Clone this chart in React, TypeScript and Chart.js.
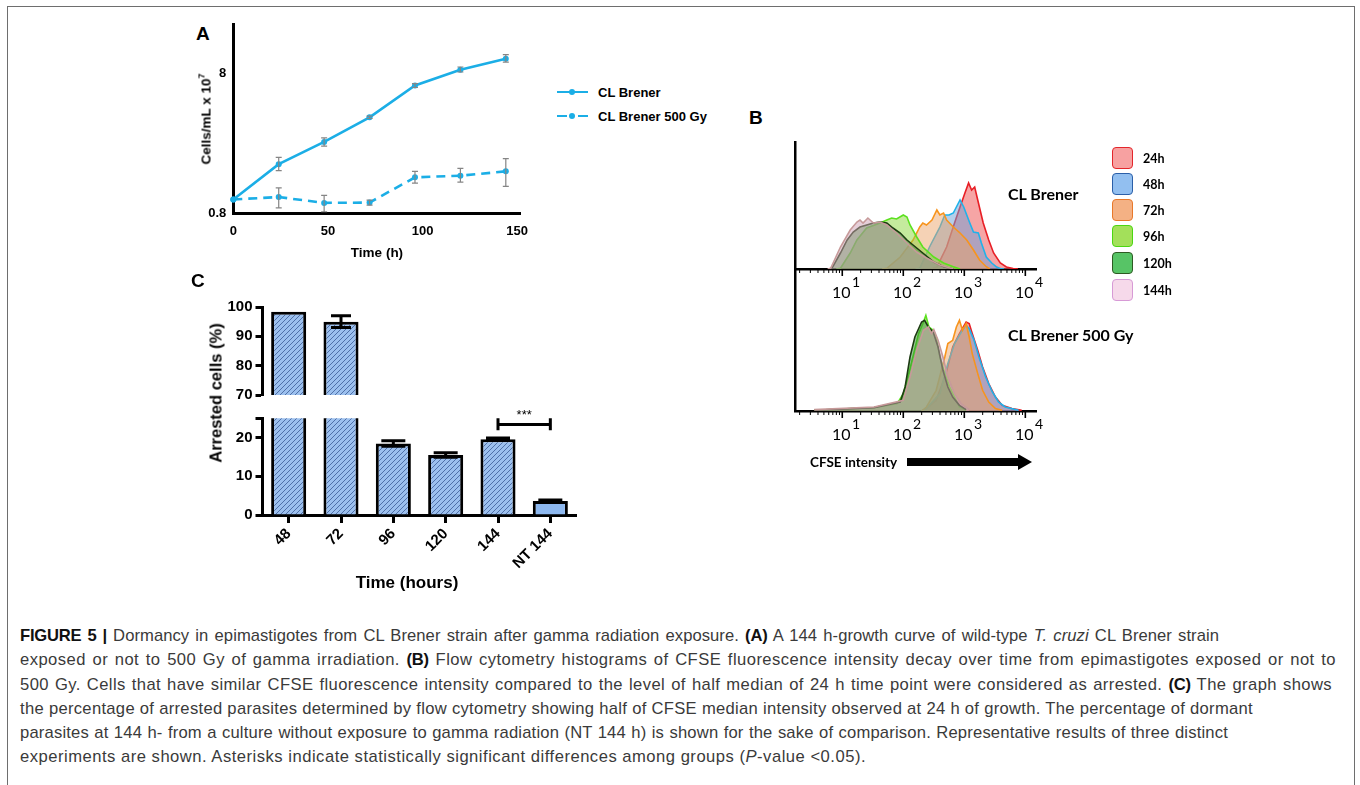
import React, { useEffect, useRef } from "react";
import { Chart, registerables } from "chart.js";

Chart.register(...registerables);

const ARIAL = "'Liberation Sans', Arial, Helvetica, sans-serif";
const CALIBRI = "Lato, 'Open Sans', 'Liberation Sans', sans-serif";

// ---------------- Panel A : growth curve ----------------
const growthHours = [0, 24, 48, 72, 96, 120, 144];
const growthControl = [1.01, 1.8, 2.59, 3.87, 6.52, 8.44, 10.08];
const growthControlLow = [1.01, 1.62, 2.42, 3.8, 6.31, 8.13, 9.55];
const growthControlHigh = [1.01, 2.01, 2.77, 3.95, 6.73, 8.82, 10.8];
const growthIrradiated = [1.01, 1.05, 0.955, 0.96, 1.45, 1.49, 1.6];
const growthIrradiatedLow = [1.01, 0.88, 0.826, 0.92, 1.32, 1.34, 1.25];
const growthIrradiatedHigh = [1.01, 1.22, 1.08, 1.0, 1.6, 1.68, 1.97];
const growthXTicks = [0, 50, 100, 150];
const growthYTicks = [0.8, 8];
const growthSeriesNames = ["CL Brener", "CL Brener 500 Gy"];
const growthColor = "#1BAEE6";

// ---------------- Panel B : CFSE histograms ----------------
const histLabels = ["24h", "48h", "72h", "96h", "120h", "144h"];
const histLine = ["#e81e25", "#1fb2ea", "#f7941d", "#5ce11f", "#1d3b12", "#c79a9a"];
const histFill = [
  "rgba(240,105,105,0.6)",
  "rgba(105,160,215,0.5)",
  "rgba(235,160,100,0.48)",
  "rgba(140,215,60,0.5)",
  "rgba(50,140,50,0.5)",
  "rgba(205,160,180,0.5)",
];
const legendFill = ["#f7a1a1", "#92bff0", "#f4b184", "#a3e05a", "#57c466", "#f6d9ea"];
const legendBorder = ["#e3262b", "#2b5fa8", "#e8782a", "#4cd612", "#2e5a23", "#d79ad6"];
const histMajorExponents = [1, 2, 3, 4];
const histMinorMultipliers = [2, 3, 4, 5, 6, 7, 8, 9];
const histDecades = [0, 1, 2, 3];

// CL Brener (control): log10 CFSE intensity and event counts
const ctl24Log = [2.45, 2.55, 2.71, 2.84, 2.93, 3.01, 3.07, 3.12, 3.17, 3.22, 3.31, 3.4, 3.48, 3.59, 3.69, 3.8, 3.88];
const ctl24Count = [0, 2, 22, 46, 62, 76, 86, 79, 82, 69, 46, 29, 16, 6, 2, 0.5, 0];
const ctl48Log = [2.2, 2.27, 2.43, 2.6, 2.68, 2.75, 2.82, 2.87, 2.93, 2.99, 3.04, 3.09, 3.15, 3.23, 3.28, 3.36, 3.45, 3.53, 3.59, 3.65];
const ctl48Count = [0, 0.7, 22, 42, 54, 54, 56, 62, 69, 62, 54, 46, 37, 36, 26, 12, 6, 2, 0.5, 0];
const ctl72Log = [1.65, 1.73, 1.95, 2.16, 2.27, 2.32, 2.38, 2.47, 2.55, 2.6, 2.66, 2.71, 2.82, 2.93, 3.04, 3.15, 3.25, 3.36, 3.42];
const ctl72Count = [0, 0.7, 12, 29, 42, 46, 44, 49, 59, 54, 56, 49, 42, 36, 29, 19, 9, 2.3, 0];
const ctl96Log = [0.9, 0.97, 1.13, 1.24, 1.4, 1.62, 1.73, 1.81, 1.89, 2.0, 2.06, 2.11, 2.22, 2.32, 2.5, 2.66, 2.82, 2.93];
const ctl96Count = [0, 0.7, 16, 29, 41, 46, 49, 51, 50, 54, 52, 44, 32, 22, 12, 6, 2.3, 0];
const ctl120Log = [0.78, 0.83, 0.97, 1.08, 1.18, 1.29, 1.4, 1.51, 1.62, 1.73, 1.83, 1.95, 2.06, 2.16, 2.32, 2.5, 2.66, 2.82];
const ctl120Count = [0, 0.7, 16, 29, 37, 42, 44, 46, 47, 46, 41, 36, 29, 24, 16, 7, 2.3, 0];
const ctl144Log = [0.76, 0.81, 0.97, 1.13, 1.24, 1.29, 1.34, 1.42, 1.51, 1.62, 1.73, 1.89, 2.06, 2.22, 2.38, 2.6, 2.82];
const ctl144Count = [0, 0.7, 22, 39, 47, 49, 46, 51, 46, 47, 44, 36, 26, 17, 11, 4, 0];

// CL Brener 500 Gy
const irr24Log = [2.3, 2.38, 2.54, 2.7, 2.81, 2.92, 3.03, 3.08, 3.13, 3.22, 3.3, 3.4, 3.51, 3.62, 3.78, 3.94];
const irr24Count = [0, 2.4, 10.7, 37.4, 64, 77.4, 89, 87.4, 77.4, 60.7, 44, 27.4, 14, 5.7, 2.4, 0.7];
const irr48Log = [2.3, 2.38, 2.6, 2.73, 2.84, 2.95, 3.03, 3.08, 3.16, 3.24, 3.35, 3.46, 3.56, 3.67, 3.89];
const irr48Count = [0, 2.4, 17.4, 47.4, 67.4, 79, 85.7, 82.4, 70.7, 54, 34, 19, 9, 4, 0.7];
const irr72Log = [2.3, 2.38, 2.54, 2.68, 2.73, 2.81, 2.87, 2.92, 2.97, 3.03, 3.08, 3.13, 3.22, 3.3, 3.4, 3.51, 3.62];
const irr72Count = [0, 4, 20.7, 54, 67.4, 70.7, 84, 90.7, 80.7, 87.4, 74, 57.4, 37.4, 20.7, 9, 2.4, 0.7];
const irr96Log = [0.54, 1.52, 1.9, 2.0, 2.09, 2.17, 2.25, 2.32, 2.37, 2.42, 2.49, 2.54, 2.6, 2.68, 2.76, 2.84, 2.92, 3.03];
const irr96Count = [0.7, 3.4, 7.4, 17.4, 37.4, 57.4, 77.4, 87.4, 95.7, 84, 80.7, 74, 54, 37.4, 24, 14, 4, 0.7];
const irr120Log = [0.54, 1.52, 1.95, 2.03, 2.11, 2.19, 2.3, 2.35, 2.41, 2.49, 2.57, 2.65, 2.73, 2.81, 2.92, 3.03];
const irr120Count = [0.7, 3.4, 9, 24, 54, 74, 89, 90.7, 84, 79, 64, 40.7, 24, 14, 5.7, 1.4];
const irr144Log = [0.54, 1.52, 2.0, 2.11, 2.22, 2.33, 2.41, 2.46, 2.5, 2.57, 2.65, 2.73, 2.84, 2.95, 3.08];
const irr144Count = [1.4, 4, 10.7, 34, 60.7, 80.7, 84, 77.4, 81.4, 70.7, 54, 34, 17.4, 7.4, 1.4];

const ctlLogs = [ctl24Log, ctl48Log, ctl72Log, ctl96Log, ctl120Log, ctl144Log];
const ctlCounts = [ctl24Count, ctl48Count, ctl72Count, ctl96Count, ctl120Count, ctl144Count];
const irrLogs = [irr24Log, irr48Log, irr72Log, irr96Log, irr120Log, irr144Log];
const irrCounts = [irr24Count, irr48Count, irr72Count, irr96Count, irr120Count, irr144Count];

// ---------------- Panel C : arrested cells ----------------
const arrestCats = ["48", "72", "96", "120", "144", "NT 144"];
const arrestPct = [98.4, 95.0, 18.5, 15.5, 19.6, 3.6];
const arrestErr = [0, 2.0, 0.7, 0.6, 0.3, 0.3];
const arrestHatched = [true, true, true, true, true, false];
const arrestUpperTicks = [70, 80, 90, 100];
const arrestLowerTicks = [0, 10, 20, 25];
const arrestLowerLabels = ["0", "10", "20", ""];
const sigPair = [4, 5];
const sigLevel = 23.4;
const sigCap = [21.9, 25];
const sigText = "***";

// ---------------- helpers ----------------
function ChartBox(props: { left: number; top: number; width: number; height: number; make: () => any }) {
  const ref = useRef<HTMLCanvasElement>(null);
  useEffect(() => {
    const chart = new Chart(ref.current as HTMLCanvasElement, props.make());
    return () => chart.destroy();
  }, []);
  return (
    <canvas
      ref={ref}
      width={props.width}
      height={props.height}
      style={{ position: "absolute", left: props.left, top: props.top, width: props.width, height: props.height }}
    />
  );
}

const growthErrorPlugin = {
  id: "growthErr",
  afterDatasetsDraw(chart: any) {
    const ctx = chart.ctx;
    const ys = chart.scales.y;
    ctx.save();
    ctx.strokeStyle = "#858585";
    ctx.lineWidth = 1.2;
    chart.data.datasets.forEach((ds: any, di: number) => {
      const meta = chart.getDatasetMeta(di);
      meta.data.forEach((pt: any, i: number) => {
        const lo = ds.errLow[i];
        const hi = ds.errHigh[i];
        if (hi - lo < 0.001) return;
        const x = pt.x;
        const y1 = ys.getPixelForValue(lo);
        const y2 = ys.getPixelForValue(hi);
        ctx.beginPath();
        ctx.moveTo(x, y1);
        ctx.lineTo(x, y2);
        ctx.moveTo(x - 3, y1);
        ctx.lineTo(x + 3, y1);
        ctx.moveTo(x - 3, y2);
        ctx.lineTo(x + 3, y2);
        ctx.stroke();
      });
    });
    ctx.restore();
  },
};

function makeGrowthConfig() {
  const mk = (vals: number[], lo: number[], hi: number[], name: string, dashed: boolean) => ({
    label: name,
    data: growthHours.map((h, i) => ({ x: h, y: vals[i] })),
    errLow: lo,
    errHigh: hi,
    borderColor: growthColor,
    backgroundColor: growthColor,
    borderWidth: 2.6,
    borderDash: dashed ? [9, 6] : [],
    pointRadius: 3,
    pointBorderWidth: 0,
    tension: 0,
    clip: false,
  });
  return {
    type: "line",
    data: {
      datasets: [
        mk(growthControl, growthControlLow, growthControlHigh, growthSeriesNames[0], false),
        mk(growthIrradiated, growthIrradiatedLow, growthIrradiatedHigh, growthSeriesNames[1], true),
      ],
    },
    options: {
      responsive: false,
      animation: false,
      layout: { padding: { left: 0, top: 12, right: 30, bottom: 0 } },
      plugins: { legend: { display: false }, tooltip: { enabled: false } },
      scales: {
        x: {
          type: "linear",
          min: 0,
          max: 151.5,
          afterBuildTicks: (s: any) => {
            s.ticks = growthXTicks.map((v) => ({ value: v }));
          },
          afterFit: (s: any) => {
            s.height = 56.3;
          },
          ticks: {
            color: "#000",
            padding: 10,
            font: { family: ARIAL, size: 13, weight: "bold" },
            callback: (v: any) => String(v),
          },
          grid: { display: false, drawTicks: false },
          border: { color: "#000", width: 3 },
        },
        y: {
          type: "logarithmic",
          min: 0.8,
          max: 17.6,
          afterBuildTicks: (s: any) => {
            s.ticks = growthYTicks.map((v) => ({ value: v }));
          },
          afterFit: (s: any) => {
            s.width = 83.3;
          },
          ticks: {
            color: "#000",
            padding: 7,
            font: { family: ARIAL, size: 13, weight: "bold" },
            callback: (v: any) => String(v),
          },
          grid: { display: false, drawTicks: false },
          border: { color: "#000", width: 3 },
        },
      },
    },
    plugins: [growthErrorPlugin],
  };
}

const histAxisPlugin = {
  id: "histAxis",
  afterDraw(chart: any) {
    const sc = chart.scales.x;
    const ctx = chart.ctx;
    const y0 = sc.top;
    ctx.save();
    ctx.strokeStyle = "#000";
    ctx.fillStyle = "#000";
    histDecades.forEach((d) =>
      histMinorMultipliers.forEach((m) => {
        const v = m * Math.pow(10, d);
        if (v < sc.min || v > sc.max) return;
        const x = sc.getPixelForValue(v);
        ctx.lineWidth = 1;
        ctx.beginPath();
        ctx.moveTo(x, y0);
        ctx.lineTo(x, y0 + 4);
        ctx.stroke();
      })
    );
    histMajorExponents.forEach((e) => {
      const x = sc.getPixelForValue(Math.pow(10, e));
      ctx.lineWidth = 1.6;
      ctx.beginPath();
      ctx.moveTo(x, y0);
      ctx.lineTo(x, y0 + 7);
      ctx.stroke();
      ctx.font = `16px ${CALIBRI}`;
      ctx.textAlign = "center";
      ctx.textBaseline = "middle";
      ctx.fillText("10", x - 1, y0 + 24);
      const w = ctx.measureText("10").width;
      ctx.font = `14px ${CALIBRI}`;
      ctx.textAlign = "left";
      ctx.fillText(String(e), x - 1 + w / 2 + 1.5, y0 + 13);
    });
    ctx.restore();
  },
};

function makeHistConfig(logs: number[][], counts: number[][], yMax: number, padTop: number, xHeight: number) {
  const datasets = histLabels.map((lab, i) => ({
    label: lab,
    data: logs[i].map((l, j) => ({ x: Math.pow(10, l), y: counts[i][j] })),
    borderColor: histLine[i],
    backgroundColor: histFill[i],
    borderWidth: 1.6,
    pointRadius: 0,
    fill: "origin",
    tension: 0,
    order: histLabels.length - i,
  }));
  return {
    type: "line",
    data: { datasets },
    options: {
      responsive: false,
      animation: false,
      layout: { padding: { left: 0, top: padTop, right: 14, bottom: 0 } },
      plugins: { legend: { display: false }, tooltip: { enabled: false } },
      scales: {
        x: {
          type: "logarithmic",
          min: 1.68,
          max: 14960,
          afterFit: (s: any) => {
            s.height = xHeight;
          },
          ticks: { display: false },
          grid: { display: false, drawTicks: false },
          border: { color: "#000", width: 2.5 },
        },
        y: {
          type: "linear",
          min: 0,
          max: yMax,
          afterFit: (s: any) => {
            s.width = 35;
          },
          ticks: { display: false },
          grid: { display: false, drawTicks: false },
          border: { color: "#000", width: 2.5 },
        },
      },
    },
    plugins: [histAxisPlugin],
  };
}

function makeHatch() {
  const c = document.createElement("canvas");
  c.width = 5;
  c.height = 5;
  const g = c.getContext("2d") as CanvasRenderingContext2D;
  g.fillStyle = "#9cc0ee";
  g.fillRect(0, 0, 5, 5);
  g.strokeStyle = "#46679f";
  g.lineWidth = 0.9;
  g.beginPath();
  g.moveTo(0, 5);
  g.lineTo(5, 0);
  g.moveTo(-1, 1);
  g.lineTo(1, -1);
  g.moveTo(4, 6);
  g.lineTo(6, 4);
  g.stroke();
  return g.createPattern(c, "repeat");
}

const barErrorPlugin = {
  id: "barErr",
  afterDatasetsDraw(chart: any) {
    const ctx = chart.ctx;
    const ys = chart.scales.y;
    const ca = chart.chartArea;
    const meta = chart.getDatasetMeta(0);
    ctx.save();
    ctx.beginPath();
    ctx.rect(ca.left - 20, ca.top, ca.right - ca.left + 40, ca.bottom - ca.top);
    ctx.clip();
    ctx.strokeStyle = "#000";
    ctx.lineWidth = 3;
    meta.data.forEach((bar: any, i: number) => {
      const e = arrestErr[i];
      if (!e) return;
      const v = arrestPct[i];
      const yHi = ys.getPixelForValue(v + e);
      const yLo = ys.getPixelForValue(v - e);
      const x = bar.x;
      const half = i === 1 ? 10 : 12;
      ctx.beginPath();
      ctx.moveTo(x, yHi);
      ctx.lineTo(x, yLo);
      ctx.moveTo(x - half, yHi);
      ctx.lineTo(x + half, yHi);
      ctx.moveTo(x - half, yLo);
      ctx.lineTo(x + half, yLo);
      ctx.stroke();
    });
    ctx.restore();
  },
};

const sigPlugin = {
  id: "sig",
  afterDraw(chart: any) {
    const ctx = chart.ctx;
    const ys = chart.scales.y;
    const meta = chart.getDatasetMeta(0);
    const x1 = meta.data[sigPair[0]].x;
    const x2 = meta.data[sigPair[1]].x;
    const y = ys.getPixelForValue(sigLevel);
    const c1 = ys.getPixelForValue(sigCap[0]);
    const c2 = ys.getPixelForValue(sigCap[1]);
    ctx.save();
    ctx.strokeStyle = "#000";
    ctx.lineWidth = 3;
    ctx.beginPath();
    ctx.moveTo(x1, y);
    ctx.lineTo(x2, y);
    ctx.moveTo(x1, c1);
    ctx.lineTo(x1, c2);
    ctx.moveTo(x2, c1);
    ctx.lineTo(x2, c2);
    ctx.stroke();
    ctx.fillStyle = "#000";
    ctx.font = `13px ${ARIAL}`;
    ctx.textAlign = "center";
    ctx.textBaseline = "middle";
    ctx.fillText(sigText, (x1 + x2) / 2, y - 9);
    ctx.restore();
  },
};

function makeArrestConfig(part: "upper" | "lower") {
  const hatch = makeHatch();
  const upper = part === "upper";
  const tickFont = { family: ARIAL, size: 15, weight: "bold" };
  return {
    type: "bar",
    data: {
      labels: arrestCats,
      datasets: [
        {
          data: arrestPct,
          backgroundColor: arrestHatched.map((h) => (h ? hatch : "#8db8ef")),
          borderColor: "#000",
          borderWidth: 3,
          borderSkipped: "start",
          barPercentage: 0.67,
          categoryPercentage: 1,
        },
      ],
    },
    options: {
      responsive: false,
      animation: false,
      layout: { padding: upper ? { left: 0, top: 11.7, right: 13.5, bottom: 5.3 } : { left: 0, top: 18.3, right: 13.5, bottom: 0 } },
      plugins: { legend: { display: false }, tooltip: { enabled: false } },
      scales: {
        x: {
          type: "category",
          display: !upper,
          offset: true,
          afterFit: (s: any) => {
            s.height = upper ? 0 : 70;
          },
          ticks: {
            color: "#000",
            font: tickFont,
            minRotation: 45,
            maxRotation: 45,
            padding: 2,
            autoSkip: false,
          },
          grid: {
            display: true,
            drawOnChartArea: false,
            drawTicks: true,
            tickLength: 8,
            tickWidth: 3,
            tickColor: "#000",
            offset: false,
          },
          border: { color: "#000", width: 3 },
        },
        y: {
          type: "linear",
          min: upper ? 70 : 0,
          max: upper ? 100 : 25,
          afterBuildTicks: (s: any) => {
            s.ticks = (upper ? arrestUpperTicks : arrestLowerTicks).map((v) => ({ value: v }));
          },
          afterFit: (s: any) => {
            s.width = 82.5;
          },
          ticks: {
            color: "#000",
            font: tickFont,
            padding: 3,
            callback: (v: any) => {
              if (upper) return String(v);
              const idx = arrestLowerTicks.indexOf(v);
              return idx >= 0 ? arrestLowerLabels[idx] : "";
            },
          },
          grid: {
            display: true,
            drawOnChartArea: false,
            drawTicks: true,
            tickLength: 7,
            tickWidth: 3,
            tickColor: "#000",
          },
          border: { color: "#000", width: 3 },
        },
      },
    },
    plugins: upper ? [barErrorPlugin] : [barErrorPlugin, sigPlugin],
  };
}

const abs = (left: number, top: number, extra: any = {}) => ({ position: "absolute" as const, left, top, ...extra });
const capBold = { color: "#111", letterSpacing: "-0.2px" };
const capLine = (width: number, spacing: number, justify: boolean) => ({
  width,
  height: 24.3,
  overflow: "visible" as const,
  letterSpacing: `${spacing}px`,
  textAlign: justify ? ("justify" as const) : ("left" as const),
  textAlignLast: justify ? ("justify" as const) : ("left" as const),
  whiteSpace: justify ? ("normal" as const) : ("nowrap" as const),
});

export default function App() {
  return (
    <div style={{ position: "absolute", left: 0, top: 0, width: 1360, height: 785, overflow: "hidden", background: "#fff" }}>
      <div
        style={{
          position: "absolute",
          left: 7,
          top: 6,
          width: 1346,
          height: 800,
          border: "1.5px solid #6e6e6e",
        }}
      />

      {/* Panel A */}
      <div style={abs(196, 23, { font: `bold 19px ${ARIAL}` })}>A</div>
      <ChartBox left={150} top={10} width={400} height={260} make={makeGrowthConfig} />
      <div
        style={abs(205, 119, {
          font: `bold 13.5px ${ARIAL}`,
          transform: "translate(-50%,-50%) rotate(-90deg)",
          whiteSpace: "nowrap",
        })}
      >
        Cells/mL x 10<sup style={{ fontSize: "9px", verticalAlign: "6px" }}>7</sup>
      </div>
      <div style={abs(377, 252, { font: `bold 13.5px ${ARIAL}`, transform: "translate(-50%,-50%)", whiteSpace: "nowrap" })}>
        Time (h)
      </div>
      {/* legend A */}
      <div style={abs(557, 91, { width: 31, height: 0, borderTop: `2.6px solid ${growthColor}` })} />
      <div style={abs(569, 89, { width: 6, height: 6, borderRadius: 3, background: growthColor })} />
      <div style={abs(557, 115, { width: 10, height: 0, borderTop: `2.6px solid ${growthColor}` })} />
      <div style={abs(578, 115, { width: 10, height: 0, borderTop: `2.6px solid ${growthColor}` })} />
      <div style={abs(569, 113, { width: 6, height: 6, borderRadius: 3, background: growthColor })} />
      <div style={abs(598, 92, { font: `bold 13px ${ARIAL}`, transform: "translateY(-50%)", whiteSpace: "nowrap" })}>
        {growthSeriesNames[0]}
      </div>
      <div style={abs(598, 116, { font: `bold 13px ${ARIAL}`, transform: "translateY(-50%)", whiteSpace: "nowrap" })}>
        {growthSeriesNames[1]}
      </div>

      {/* Panel B */}
      <div style={abs(749, 107, { font: `bold 19px ${ARIAL}` })}>B</div>
      <ChartBox
        left={760}
        top={130}
        width={290}
        height={190}
        make={() => makeHistConfig(ctlLogs, ctlCounts, 127, 12, 51)}
      />
      <ChartBox
        left={760}
        top={260}
        width={290}
        height={190}
        make={() => makeHistConfig(irrLogs, irrCounts, 141, 10, 39)}
      />
      <div style={abs(1008, 193, { font: `bold 16px ${CALIBRI}`, transform: "translateY(-50%)", whiteSpace: "nowrap" })}>
        CL Brener
      </div>
      <div style={abs(1008, 334, { font: `bold 16px ${CALIBRI}`, transform: "translateY(-50%)", whiteSpace: "nowrap" })}>
        CL Brener 500 Gy
      </div>
      {histLabels.map((lab, i) => {
        const tops = [147, 173, 198.5, 225, 252, 278.5];
        return (
          <React.Fragment key={lab}>
            <div
              style={abs(1112, tops[i], {
                width: 21,
                height: 22,
                boxSizing: "border-box",
                borderRadius: 4,
                border: `1.6px solid ${legendBorder[i]}`,
                background: legendFill[i],
              })}
            />
            <div
              style={abs(1143, tops[i] + 11, {
                font: `bold 12.5px ${CALIBRI}`,
                transform: "translateY(-50%)",
                whiteSpace: "nowrap",
              })}
            >
              {lab}
            </div>
          </React.Fragment>
        );
      })}
      <div style={abs(810, 462, { font: `bold 13.5px ${CALIBRI}`, transform: "translateY(-50%)", whiteSpace: "nowrap" })}>
        CFSE intensity
      </div>
      <svg style={abs(905, 452, { width: 130, height: 20 })} width={130} height={20}>
        <polygon points="2,6 113,6 113,2 127,10 113,18 113,14 2,14" fill="#000" />
      </svg>

      {/* Panel C */}
      <div style={abs(191, 270, { font: `bold 19px ${ARIAL}` })}>C</div>
      <ChartBox left={180} top={295} width={410} height={112} make={() => makeArrestConfig("upper")} />
      <ChartBox left={180} top={400} width={410} height={185} make={() => makeArrestConfig("lower")} />
      <div
        style={abs(216, 393, {
          font: `bold 16.5px ${ARIAL}`,
          transform: "translate(-50%,-50%) rotate(-90deg)",
          whiteSpace: "nowrap",
        })}
      >
        Arrested cells (%)
      </div>
      <div style={abs(407, 583, { font: `bold 17px ${ARIAL}`, transform: "translate(-50%,-50%)", whiteSpace: "nowrap" })}>
        Time (hours)
      </div>

      {/* Caption */}
      <div
        style={abs(20, 624, {
          font: `16.6px ${ARIAL}`,
          lineHeight: "24.3px",
          color: "#3a3a3a",
        })}
      >
        <div style={capLine(1199, 0.05, true)}>
          <b style={capBold}>FIGURE 5 |</b> Dormancy in epimastigotes from CL Brener strain after gamma radiation
          exposure. <b style={capBold}>(A)</b> A 144 h-growth curve of wild-type <i>T. cruzi</i> CL Brener strain
        </div>
        <div style={capLine(1316, 0.45, true)}>
          exposed or not to 500 Gy of gamma irradiation. <b style={capBold}>(B)</b> Flow cytometry histograms of
          CFSE fluorescence intensity decay over time from epimastigotes exposed or not to
        </div>
        <div style={capLine(1312, 0.4, true)}>
          500 Gy. Cells that have similar CFSE fluorescence intensity compared to the level of half median of 24 h time point
          were considered as arrested. <b style={capBold}>(C)</b> The graph shows
        </div>
        <div style={capLine(1224, 0.3, false)}>
          the percentage of arrested parasites determined by flow cytometry showing half of CFSE median intensity observed at
          24 h of growth. The percentage of dormant
        </div>
        <div style={capLine(1208, 0.18, true)}>
          parasites at 144 h- from a culture without exposure to gamma radiation (NT 144 h) is shown for the sake of
          comparison. Representative results of three distinct
        </div>
        <div style={capLine(852, 0.5, false)}>
          experiments are shown. Asterisks indicate statistically significant differences among groups (<i>P</i>-value
          &lt;0.05).
        </div>
      </div>
    </div>
  );
}
